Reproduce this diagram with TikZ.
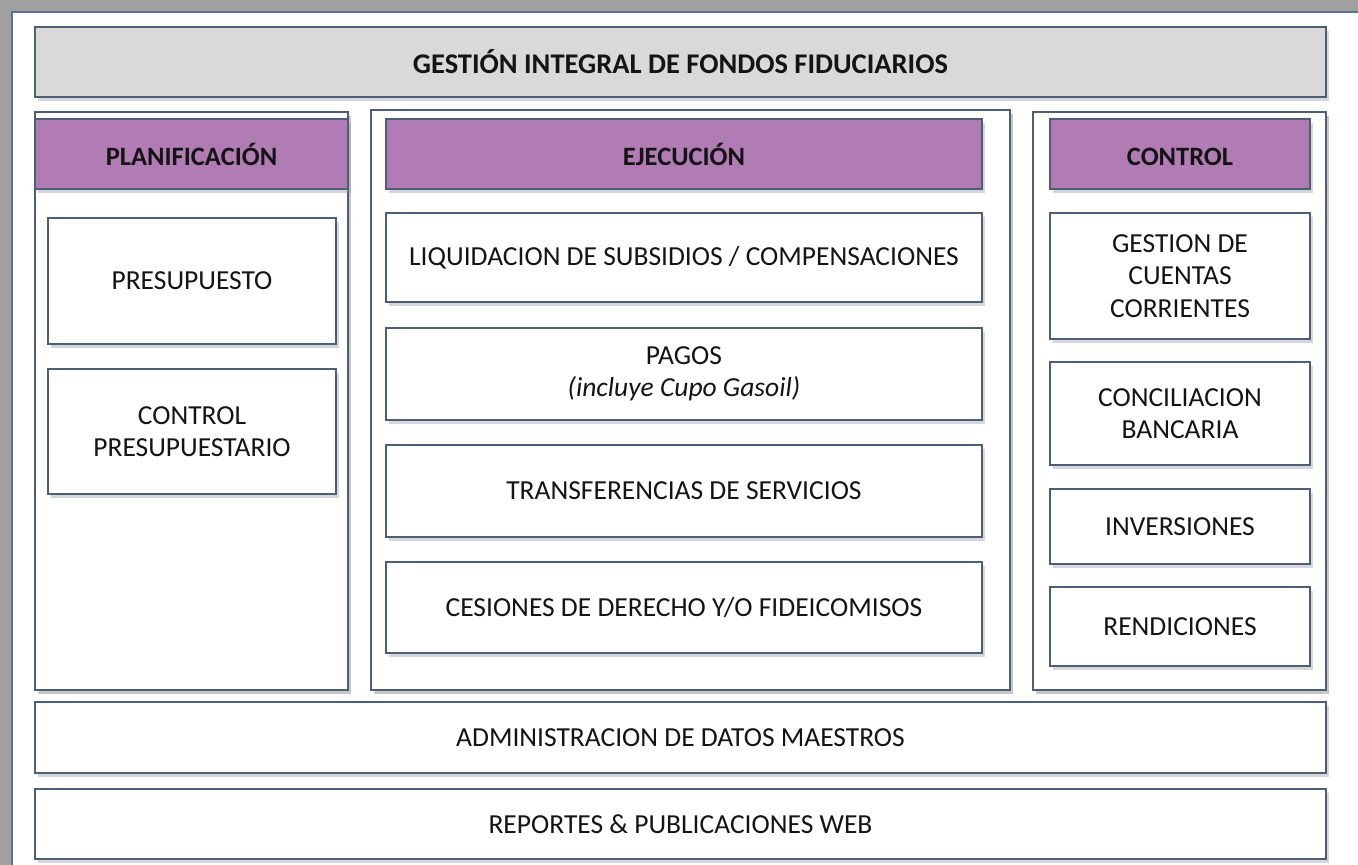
\documentclass[tikz,border=0pt]{standalone}
\usepackage{fontspec}
\setmainfont{Carlito}
\usetikzlibrary{shadows}
\definecolor{edge}{HTML}{4E5F75}
\definecolor{frameline}{HTML}{5F7189}
\definecolor{purp}{HTML}{B17BB4}
\definecolor{titlegrey}{HTML}{D9D9D9}
\definecolor{stripgrey}{HTML}{A0A0A0}
\definecolor{ink}{HTML}{141414}
\tikzset{
  base/.style={draw=edge, line width=2pt, inner sep=0pt, outer sep=0pt, align=center,
    text=ink, font=\fontsize{27.5}{32.5}\selectfont,
    drop shadow={shadow xshift=3pt, shadow yshift=-4pt, opacity=0.35, fill=edge!70}},
  plainbox/.style={base, fill=white},
  headbox/.style={base, fill=purp, font=\fontsize{26.5}{32}\selectfont\bfseries,
    execute at begin node={\vphantom{Ó}}},
  titlebox/.style={base, fill=titlegrey, font=\fontsize{28.5}{33}\selectfont\bfseries},
  groupbox/.style={base, fill=white, line width=1.6pt, drop shadow={shadow xshift=3pt, shadow yshift=-4pt, opacity=0.25, fill=edge!60}}
}
\newcommand{\mybox}[7]{%
  \node[#6, minimum width={(#4-#2)*1pt}, minimum height={(#5-#3)*1pt}] (#1)
    at ({(#2+#4)/2},{(#3+#5)/2}) {#7};}
\begin{document}
\begin{tikzpicture}[x=1pt,y=-1pt]
\useasboundingbox (0,0) rectangle (1358,865);
\begin{scope}
\clip (0,0) rectangle (1358,865);
\fill[stripgrey] (0,0) rectangle (1358,865);
\filldraw[fill=white, draw=frameline, line width=1.6pt] (12,12) rectangle (1380,890);
\end{scope}

% title
\mybox{title}{35}{27}{1326}{97}{titlebox}{GESTIÓN INTEGRAL DE FONDOS FIDUCIARIOS}

% group containers
\mybox{gplan}{35}{112}{348}{690}{groupbox}{}
\mybox{gejec}{371}{110}{1010}{690}{groupbox}{}
\mybox{gctrl}{1033}{112}{1326}{690}{groupbox}{}

% headers
\mybox{hplan}{35}{119}{348}{189}{headbox}{PLANIFICACIÓN}
\mybox{hejec}{386}{119}{982}{189}{headbox}{EJECUCIÓN}
\mybox{hctrl}{1050}{119}{1310}{189}{headbox}{CONTROL}

% planificacion
\mybox{presu}{48}{218}{336}{344}{plainbox}{PRESUPUESTO}
\mybox{cpresu}{48}{369}{336}{494}{plainbox}{CONTROL\\PRESUPUESTARIO}

% ejecucion
\mybox{liq}{386}{213}{982}{302}{plainbox}{LIQUIDACION DE SUBSIDIOS / COMPENSACIONES}
\mybox{pagos}{386}{328}{982}{420}{plainbox}{PAGOS\\\textit{(incluye Cupo Gasoil)}}
\mybox{transf}{386}{445}{982}{537}{plainbox}{TRANSFERENCIAS DE SERVICIOS}
\mybox{cesion}{386}{562}{982}{653}{plainbox}{CESIONES DE DERECHO Y/O FIDEICOMISOS}

% control
\mybox{gcc}{1050}{213}{1310}{339}{plainbox}{GESTION DE\\CUENTAS\\CORRIENTES}
\mybox{conc}{1050}{362}{1310}{465}{plainbox}{CONCILIACION\\BANCARIA}
\mybox{inv}{1050}{489}{1310}{564}{plainbox}{INVERSIONES}
\mybox{rend}{1050}{587}{1310}{666}{plainbox}{RENDICIONES}

% bottom bars
\mybox{admin}{35}{702}{1326}{773}{plainbox}{ADMINISTRACION DE DATOS MAESTROS}
\mybox{report}{35}{789}{1326}{859}{plainbox}{REPORTES \& PUBLICACIONES WEB}
\end{tikzpicture}
\end{document}
